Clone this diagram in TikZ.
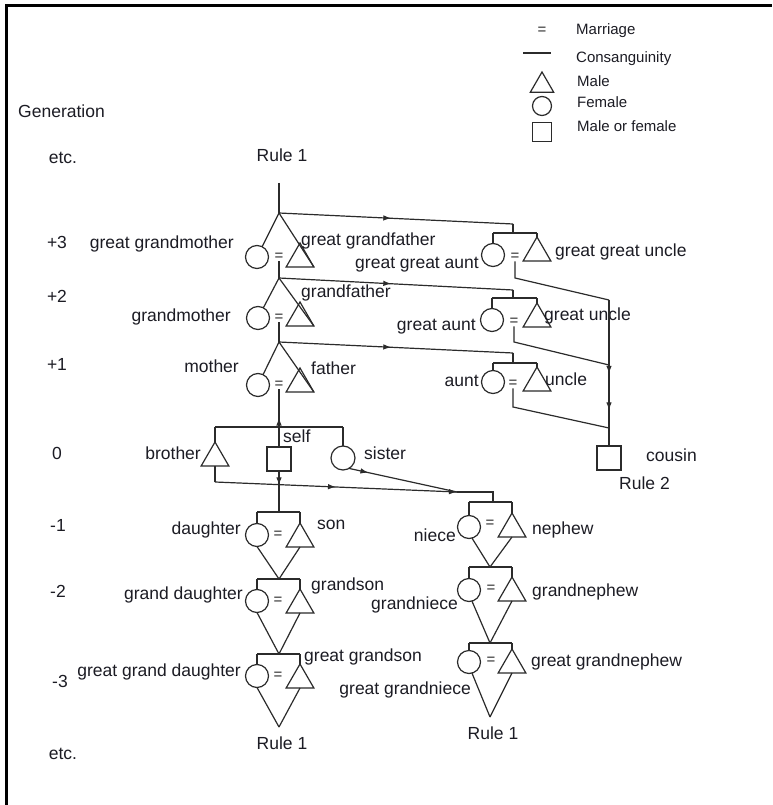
\documentclass[tikz,border=0pt]{standalone}
\usepackage{fontspec}
\setmainfont{Liberation Sans}
\usetikzlibrary{shapes.geometric,arrows.meta,decorations.markings}

\definecolor{inkline}{HTML}{2B2B2B}
\definecolor{inktext}{HTML}{1C1C24}

\tikzset{
  kin/.style={draw=inkline, line width=1.2pt},
  fem/.style={circle, draw=inkline, line width=1.2pt, minimum size=23pt, inner sep=0pt, outer sep=0pt},
  male/.style={regular polygon, regular polygon sides=3, draw=inkline, line width=1.2pt,
               minimum size=32pt, inner sep=0pt, outer sep=0pt},
  anyone/.style={rectangle, draw=inkline, line width=1.2pt, minimum size=24pt, inner sep=0pt, outer sep=0pt},
  wed/.style={font=\fontsize{15}{15}\selectfont, text=inkline, inner sep=0.4pt},
  lbl/.style={font=\fontsize{17.5}{19}\selectfont, text=inktext, inner sep=0pt,
              text height=12.5pt, text depth=3.7pt},
  lgtxt/.style={font=\fontsize{15}{16}\selectfont, text=inktext, inner sep=0pt,
                text height=10.8pt, text depth=3.1pt},
  fwd/.style={postaction={decorate, decoration={markings,
      mark=at position #1 with {\arrow{Latex[length=8pt,width=5.5pt]}}}}},
}

\begin{document}
\begin{tikzpicture}[x=1pt, y=-1pt]
  \useasboundingbox (0,0) rectangle (772,805);
  \fill[white] (0,0) rectangle (772,805);

  % frame
  \draw[black, line width=3pt] (6.5,805) -- (6.5,5.5) -- (772,5.5);

  % legend
  \node[wed] (lgeq) at (542,31) {=};
  \node[lgtxt, anchor=west] (lgt1) at (576,31) {Marriage};
  \coordinate (lgl1) at (523,53);
  \coordinate (lgl2) at (551,53);
  \draw[kin] (lgl1) -- (lgl2);
  \node[lgtxt, anchor=west] (lgt2) at (576,59) {Consanguinity};
  \node[male, minimum size=27pt, anchor=corner 1] (lgmale) at (542,72) {};
  \node[lgtxt, anchor=west] (lgt3) at (577,83) {Male};
  \node[fem, minimum size=19pt] (lgfem) at (542,106) {};
  \node[lgtxt, anchor=west] (lgt4) at (577,104) {Female};
  \node[anyone, minimum size=19pt] (lgany) at (542,132) {};
  \node[lgtxt, anchor=west] (lgt5) at (577,128) {Male or female};

  % generation column
  \node[lbl, anchor=west] (gen) at (18,113) {Generation};
  \node[lbl] (gup) at (63,159) {etc.};
  \node[lbl] (gp3) at (57,244) {+3};
  \node[lbl] (gp2) at (57,298) {+2};
  \node[lbl] (gp1) at (57,366) {+1};
  \node[lbl] (g0) at (57,455) {0};
  \node[lbl] (gm1) at (58,527) {-1};
  \node[lbl] (gm2) at (58,593) {-2};
  \node[lbl] (gm3x) at (60,683) {-3};
  \node[lbl] (gdown) at (63,755) {etc.};

  % ancestral line
  \node[lbl] (rtop) at (282,157) {Rule 1};
  \coordinate (top) at (279,183);
  \coordinate (a3) at (279,213);
  \coordinate (a2) at (279,278);
  \coordinate (a1) at (279,342);
  \draw[kin] (top) -- (a3);

  % +3
  \node[fem] (ggm) at (257,257) {};
  \node[male, anchor=corner 1] (ggf) at (300,243) {};
  \node[wed] (eq3) at (279,257) {=};
  \draw[kin] (a3) -- (ggm);
  \draw[kin] (a3) -- (ggf.corner 3);
  \draw[kin] (eq3) -- (a2);
  \node[lbl, anchor=east] at (234,244) {great grandmother};
  \node[lbl, anchor=west] at (301,241) {great grandfather};

  % +2
  \node[fem] (gmo) at (258,318) {};
  \node[male, anchor=corner 1] (gfa) at (300,302) {};
  \node[wed] (eq2) at (279,318) {=};
  \draw[kin] (a2) -- (gmo);
  \draw[kin] (a2) -- (gfa.corner 3);
  \draw[kin] (eq2) -- (a1);
  \node[lbl, anchor=east] at (231,317) {grandmother};
  \node[lbl, anchor=west] at (301,293) {grandfather};

  % +1
  \node[fem] (mo) at (258,385) {};
  \node[male, anchor=corner 1] (fa) at (300,368) {};
  \node[wed] (eq1) at (279,385) {=};
  \draw[kin] (a1) -- (mo);
  \draw[kin] (a1) -- (fa.corner 3);
  \node[lbl, anchor=east] at (239,368) {mother};
  \node[lbl, anchor=west] at (311,370) {father};

  % collateral couples
  \coordinate (p3in) at (513,224);
  \coordinate (p3bar) at (513,233);
  \coordinate (p3l) at (493,233);
  \coordinate (p3r) at (537,233);
  \node[fem] (ggaunt) at (493,255) {};
  \node[male, anchor=corner 1] (gguncle) at (537,237) {};
  \node[wed] (eqp3) at (515,257) {=};
  \coordinate (p3dn) at (515,278);
  \coordinate (c0) at (609,300);
  \draw[kin, fwd=0.48] (a3) -- (p3in);
  \draw[kin] (p3in) -- (p3bar);
  \draw[kin] (p3l) -- (p3r);
  \draw[kin] (p3l) -- (ggaunt);
  \draw[kin] (p3r) -- (gguncle.corner 1);
  \draw[kin] (eqp3) -- (p3dn) -- (c0);
  \node[lbl, anchor=east] at (479,264) {great great aunt};
  \node[lbl, anchor=west] at (555,252) {great great uncle};

  \coordinate (p2in) at (513,290);
  \coordinate (p2bar) at (513,298);
  \coordinate (p2l) at (492,298);
  \coordinate (p2r) at (537,298);
  \node[fem] (gaunt) at (492,320) {};
  \node[male, anchor=corner 1] (guncle) at (537,303) {};
  \node[wed] (eqp2) at (514,322) {=};
  \coordinate (p2dn) at (514,342);
  \coordinate (c1) at (609,365);
  \draw[kin, fwd=0.48] (a2) -- (p2in);
  \draw[kin] (p2in) -- (p2bar);
  \draw[kin] (p2l) -- (p2r);
  \draw[kin] (p2l) -- (gaunt);
  \draw[kin] (p2r) -- (guncle.corner 1);
  \draw[kin] (eqp2) -- (p2dn) -- (c1);
  \node[lbl, anchor=east] at (476,326) {great aunt};
  \node[lbl, anchor=west] at (544,316) {great uncle};

  \coordinate (p1in) at (513,353);
  \coordinate (p1bar) at (513,363);
  \coordinate (p1l) at (493,363);
  \coordinate (p1r) at (537,363);
  \node[fem] (aunt) at (493,382) {};
  \node[male, anchor=corner 1] (uncle) at (537,367) {};
  \node[wed] (eqp1) at (513,384) {=};
  \coordinate (p1dn) at (513,407);
  \coordinate (c2) at (609,428);
  \draw[kin, fwd=0.48] (a1) -- (p1in);
  \draw[kin] (p1in) -- (p1bar);
  \draw[kin] (p1l) -- (p1r);
  \draw[kin] (p1l) -- (aunt);
  \draw[kin] (p1r) -- (uncle.corner 1);
  \draw[kin] (eqp1) -- (p1dn) -- (c2);
  \node[lbl, anchor=east] at (479,382) {aunt};
  \node[lbl, anchor=west] at (545,381) {uncle};

  % cousin
  \node[anyone] (cousin) at (609,458) {};
  \draw[kin] (c0) -- (c1);
  \draw[kin, fwd=0.14, fwd=0.72] (c1) -- (c2);
  \draw[kin] (c2) -- (cousin);
  \node[lbl, anchor=west] at (646,457) {cousin};
  \node[lbl, anchor=west] at (619,485) {Rule 2};

  % siblings
  \coordinate (sb) at (279,427);
  \coordinate (sbl) at (215,427);
  \coordinate (sbr) at (343,427);
  \node[male, anchor=corner 1] (brother) at (215,442) {};
  \node[anyone] (self) at (279,459) {};
  \node[fem, minimum size=24pt] (sister) at (343,458) {};
  \draw[kin] (sbl) -- (sbr);
  \draw[kin] (sbl) -- (brother.corner 1);
  \draw[kin] (sb) -- (self);
  \draw[kin] (sbr) -- (sister);
  \draw[kin, fwd=0.25] (sb) -- (eq1);
  \node[lbl, anchor=east] at (201,455) {brother};
  \node[lbl, anchor=west] at (283,438) {self};
  \node[lbl, anchor=west] at (364,455) {sister};

  % lines to the nieces and nephews
  \coordinate (bdn) at (215,482);
  \coordinate (nj) at (457,492);
  \coordinate (nb) at (493,492);
  \coordinate (nbar) at (493,502);
  \draw[kin] (brother.south) -- (bdn);
  \draw[kin, fwd=0.5, fwd=1] (bdn) -- (nj);
  \draw[kin, fwd=0.18] (sister.-60) -- (nj);
  \draw[kin] (nj) -- (nb) -- (nbar);

  % descendants of self
  \coordinate (cb1) at (279,512);
  \draw[kin, fwd=0.35] (self) -- (cb1);

  \coordinate (cb1l) at (257,512);
  \coordinate (cb1r) at (300,512);
  \node[fem] (dau) at (257,535) {};
  \node[male, anchor=corner 1] (son) at (300,523) {};
  \node[wed] (eqd1) at (278,535) {=};
  \coordinate (v1) at (279,579);
  \draw[kin] (cb1l) -- (cb1r);
  \draw[kin] (cb1l) -- (dau);
  \draw[kin] (cb1r) -- (son.corner 1);
  \draw[kin] (dau.south) -- (v1);
  \draw[kin] (son.south) -- (v1);
  \node[lbl, anchor=east] at (241,530) {daughter};
  \node[lbl, anchor=west] at (317,525) {son};

  \coordinate (cb2l) at (257,579);
  \coordinate (cb2r) at (300,579);
  \node[fem] (gdau) at (257,601) {};
  \node[male, anchor=corner 1] (gson) at (300,589) {};
  \node[wed] (eqd2) at (278,601) {=};
  \coordinate (v2) at (279,654);
  \draw[kin] (cb2l) -- (cb2r);
  \draw[kin] (cb2l) -- (gdau);
  \draw[kin] (cb2r) -- (gson.corner 1);
  \draw[kin] (gdau.south) -- (v2);
  \draw[kin] (gson.south) -- (v2);
  \node[lbl, anchor=east] at (243,595) {grand daughter};
  \node[lbl, anchor=west] at (311,586) {grandson};

  \coordinate (cb3l) at (257,654);
  \coordinate (cb3r) at (300,654);
  \node[fem] (ggdau) at (257,676) {};
  \node[male, anchor=corner 1] (ggson) at (300,664) {};
  \node[wed] (eqd3) at (278,676) {=};
  \coordinate (v3) at (279,727);
  \draw[kin] (cb3l) -- (cb3r);
  \draw[kin] (cb3l) -- (ggdau);
  \draw[kin] (cb3r) -- (ggson.corner 1);
  \draw[kin] (ggdau.south) -- (v3);
  \draw[kin] (ggson.south) -- (v3);
  \node[lbl, anchor=east] at (241,672) {great grand daughter};
  \node[lbl, anchor=west] at (304,657) {great grandson};
  \node[lbl] at (282,745) {Rule 1};

  % descendants of the siblings
  \coordinate (nb1l) at (469,502);
  \coordinate (nb1r) at (512,502);
  \node[fem] (niece) at (469,527) {};
  \node[male, anchor=corner 1] (nephew) at (512,513) {};
  \node[wed] (eqn1) at (490,524) {=};
  \coordinate (vn1) at (490,567);
  \draw[kin] (nb1l) -- (nb1r);
  \draw[kin] (nb1l) -- (niece);
  \draw[kin] (nb1r) -- (nephew.corner 1);
  \draw[kin] (niece.-75) -- (vn1);
  \draw[kin] (nephew.south) -- (vn1);
  \node[lbl, anchor=east] at (456,537) {niece};
  \node[lbl, anchor=west] at (532,530) {nephew};

  \coordinate (nb2l) at (469,567);
  \coordinate (nb2r) at (512,567);
  \node[fem] (gniece) at (469,590) {};
  \node[male, anchor=corner 1] (gnephew) at (512,577) {};
  \node[wed] (eqn2) at (491,589) {=};
  \coordinate (vn2) at (490,643);
  \draw[kin] (nb2l) -- (nb2r);
  \draw[kin] (nb2l) -- (gniece);
  \draw[kin] (nb2r) -- (gnephew.corner 1);
  \draw[kin] (gniece.-75) -- (vn2);
  \draw[kin] (gnephew.south) -- (vn2);
  \node[lbl, anchor=east] at (458,605) {grandniece};
  \node[lbl, anchor=west] at (532,592) {grandnephew};

  \coordinate (nb3l) at (469,643);
  \coordinate (nb3r) at (512,643);
  \node[fem] (ggniece) at (469,662) {};
  \node[male, anchor=corner 1] (ggnephew) at (512,649) {};
  \node[wed] (eqn3) at (491,661) {=};
  \coordinate (vn3) at (490,717);
  \draw[kin] (nb3l) -- (nb3r);
  \draw[kin] (nb3l) -- (ggniece);
  \draw[kin] (nb3r) -- (ggnephew.corner 1);
  \draw[kin] (ggniece.-75) -- (vn3);
  \draw[kin] (ggnephew.south) -- (vn3);
  \node[lbl, anchor=east] at (471,690) {great grandniece};
  \node[lbl, anchor=west] at (531,662) {great grandnephew};
  \node[lbl] at (493,735) {Rule 1};
\end{tikzpicture}
\end{document}
